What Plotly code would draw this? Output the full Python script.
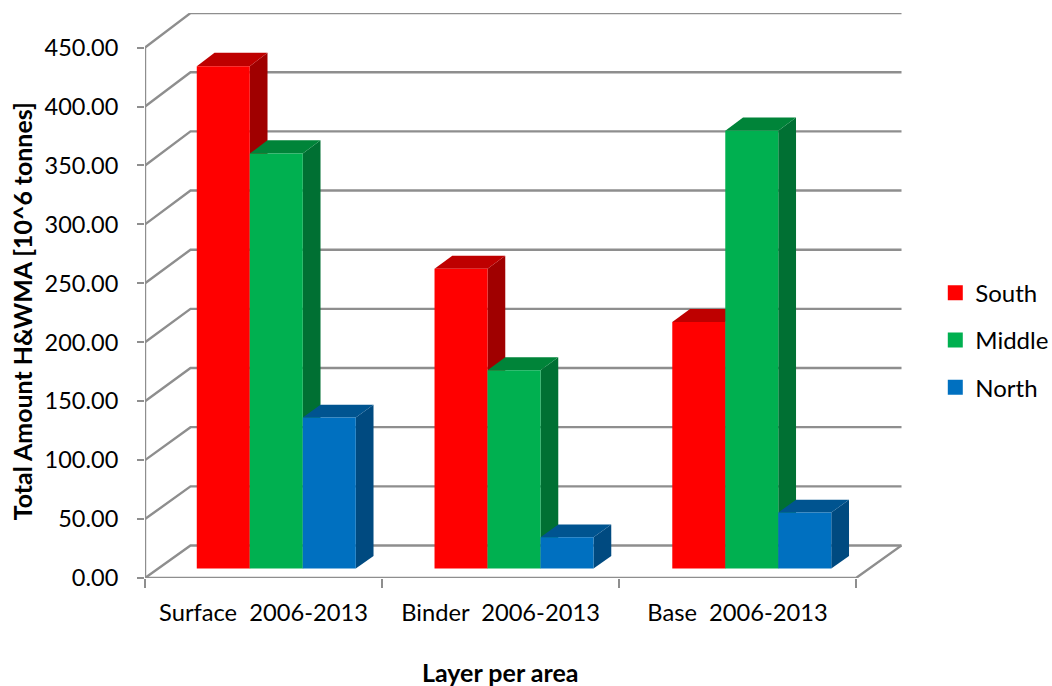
import plotly.graph_objects as go

categories = ["Surface\u00a0\u00a02006-2013", "Binder\u00a0\u00a02006-2013", "Base\u00a0\u00a02006-2013"]
series_names = ["South", "Middle", "North"]
south = [425.8, 254.0, 209.0]
middle = [351.7, 168.0, 371.0]
north = [128.0, 26.6, 47.5]
value_ticks = [0, 50, 100, 150, 200, 250, 300, 350, 400, 450]

series_values = [south, middle, north]
front_colors = ["#FF0000", "#00B050", "#0070C0"]
top_colors = ["#BE0000", "#008439", "#005490"]
side_colors = ["#A00000", "#007033", "#004A80"]

# Oblique projection: full depth of the floor, expressed in axis units,
# with a slight vertical stretch towards the back wall.
DEPTH_X = 45.5 / 237
DEPTH_Y = 32.5 / 1.178
DEPTH_STRETCH = 0.0038
BAR_WIDTH = 53 / 237
BAR_NEAR = 0.29
BAR_FAR = 0.68
GROUP_PITCH = 237.75 / 237
GROUP_SHIFT = -0.8 / 237
GRID = "#8E8E8E"
FONT = "Lato, sans-serif"
n_cat = len(categories)


def project(x, value, depth):
    return x + depth * DEPTH_X, value + depth * (DEPTH_Y + value * DEPTH_STRETCH)


def polygon(points, color, group):
    xs, ys = zip(*points)
    return go.Scatter(
        x=list(xs) + [xs[0]], y=list(ys) + [ys[0]], mode="lines", fill="toself",
        fillcolor=color, line=dict(width=0), hoverinfo="skip",
        showlegend=False, legendgroup=group, cliponaxis=False,
    )


def grid_line(points):
    xs, ys = zip(*points)
    return go.Scatter(
        x=list(xs), y=list(ys), mode="lines", line=dict(color=GRID, width=2.4),
        hoverinfo="skip", showlegend=False, cliponaxis=False,
    )


fig = go.Figure()

# Back wall, side wall and floor of the chart box
for v in value_ticks:
    fig.add_trace(grid_line([(0, v), project(0, v, 1), project(n_cat, v, 1)]))
fig.add_trace(grid_line([(0, 0), (0, value_ticks[-1])]))
fig.add_trace(grid_line([(0, 0), (n_cat, 0), project(n_cat, 0, 1)]))

# Bars, painted back-to-front from left to right so each hides its neighbour's side
for c in range(n_cat):
    group_left = (c + 0.5) * GROUP_PITCH - 1.5 * BAR_WIDTH + GROUP_SHIFT
    for s, name in enumerate(series_names):
        v = series_values[s][c]
        x0 = group_left + s * BAR_WIDTH
        x1 = x0 + BAR_WIDTH
        fig.add_trace(polygon(
            [project(x1, 0, BAR_NEAR), project(x1, 0, BAR_FAR), project(x1, v, BAR_FAR), project(x1, v, BAR_NEAR)],
            side_colors[s], name))
        fig.add_trace(polygon(
            [project(x0, v, BAR_NEAR), project(x0, v, BAR_FAR), project(x1, v, BAR_FAR), project(x1, v, BAR_NEAR)],
            top_colors[s], name))
        fig.add_trace(polygon(
            [project(x0, 0, BAR_NEAR), project(x0, v, BAR_NEAR), project(x1, v, BAR_NEAR), project(x1, 0, BAR_NEAR)],
            front_colors[s], name))

# Legend keys
for s, name in enumerate(series_names):
    fig.add_trace(go.Scatter(
        x=[None], y=[None], mode="markers", name=name, legendgroup=name,
        marker=dict(symbol="square", size=15, color=front_colors[s]),
    ))

fig.update_layout(
    width=1052, height=686, autosize=False,
    margin=dict(l=144.5, r=150.3, t=13, b=108.3, autoexpand=False),
    plot_bgcolor="white", paper_bgcolor="white",
    font=dict(family=FONT, color="#000000", size=23),
    showlegend=True,
    legend=dict(
        x=(935 - 144.5) / 757.2, xanchor="left", y=(577.7 - 340) / 564.7, yanchor="middle",
        tracegroupgap=13, font=dict(size=24), itemclick=False, itemdoubleclick=False,
        bgcolor="rgba(0,0,0,0)",
    ),
    xaxis=dict(
        range=[0, 3 * 757.2 / 711.2], showgrid=False, zeroline=False, showline=False,
        tickmode="array", tickvals=[i + 0.5 for i in range(n_cat)], ticktext=categories,
        ticks="outside", ticklen=0, tickwidth=0, ticklabelstandoff=14,
        tickfont=dict(size=23.7, family=FONT),
        minor=dict(tickmode="array", tickvals=list(range(n_cat + 1)), ticks="outside",
                   ticklen=9, tickwidth=2, tickcolor=GRID, showgrid=False),
    ),
    yaxis=dict(
        range=[0, 564.7 / 1.178], showgrid=False, zeroline=False, showline=False,
        tickmode="array", tickvals=value_ticks, tickformat=".2f",
        ticks="outside", ticklen=7, tickwidth=2, tickcolor=GRID, ticklabelstandoff=14,
        tickfont=dict(size=23.5, family=FONT),
    ),
    annotations=[
        dict(text="<b>Layer per area</b>", xref="paper", yref="paper",
             x=(500 - 144.5) / 757.2, y=-(672 - 577.7) / 564.7, xanchor="center", yanchor="middle",
             showarrow=False, font=dict(size=25, family=FONT)),
        dict(text="<b>Total Amount H&WMA [10^6 tonnes]</b>", xref="paper", yref="paper",
             x=(21 - 144.5) / 757.2, y=(577.7 - 311.5) / 564.7, xanchor="center", yanchor="middle",
             textangle=-90, showarrow=False, font=dict(size=24.9, family=FONT)),
    ],
)

fig.write_html("out.html")
